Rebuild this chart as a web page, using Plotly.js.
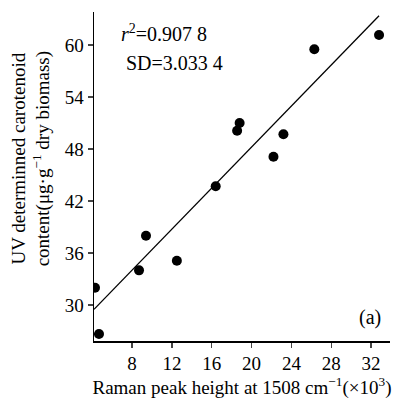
<!DOCTYPE html>
<html><head><meta charset="utf-8">
<script src="https://cdn.plot.ly/plotly-3.0.1.min.js"></script>
<style>html,body{margin:0;padding:0;background:#fff}#c{width:404px;height:403px}</style>
</head><body><div id="c"></div>
<script>
const ramanX = [4.28, 4.68, 8.7, 9.4, 12.5, 16.4, 18.55, 18.8, 22.2, 23.2, 26.3, 32.8];
const uvY = [32.0, 26.65, 34.0, 38.0, 35.1, 43.7, 50.1, 51.0, 47.1, 49.7, 59.5, 61.15];
const fitSlope = 1.183;
const fitIntercept = 24.56;
const fitXRange = [4.18, 32.8];
const xTicks = [8, 12, 16, 20, 24, 28, 32];
const yTicks = [30, 36, 42, 48, 54, 60];

const fitY = fitXRange.map(x => fitIntercept + fitSlope * x);
const font = {family: "Liberation Serif, Times New Roman, serif", color: "#000"};
const f = s => Object.assign({size: s}, font);

Plotly.newPlot("c", [
  {x: fitXRange, y: fitY, mode: "lines", line: {color: "#000", width: 1.3}, hoverinfo: "skip"},
  {x: ramanX, y: uvY, mode: "markers", marker: {color: "#000", size: 10, symbol: "circle"}}
], {
  width: 404, height: 403,
  margin: {l: 94, r: 14, t: 12, b: 62},
  showlegend: false,
  paper_bgcolor: "#fff", plot_bgcolor: "#fff",
  font: f(19),
  xaxis: {
    range: [4.18, 33.9], tickvals: xTicks, ticks: "outside", ticklen: 5, tickwidth: 1.3,
    showline: true, linecolor: "#000", linewidth: 1.5, showgrid: false, zeroline: false,
    tickfont: f(19),
    title: {text: "Raman peak height at 1508 cm<sup>−1</sup>(×10<sup>3</sup>)", font: f(19), standoff: 6}
  },
  yaxis: {
    range: [25.85, 63.8], tickvals: yTicks, ticks: "outside", ticklen: 5, tickwidth: 1.3,
    showline: true, linecolor: "#000", linewidth: 1.5, showgrid: false, zeroline: false,
    tickfont: f(19)
  },
  annotations: [
    {xref: "paper", yref: "paper", x: -0.213, y: 0.555, xanchor: "center", yanchor: "middle", showarrow: false,
     textangle: -90, align: "center",
     text: "UV determinned carotenoid<br>content(μg·g<sup>−1</sup> dry biomass)", font: f(19)},
    {xref: "paper", yref: "paper", x: 0.085, y: 0.935, xanchor: "left", yanchor: "middle", showarrow: false,
     text: "<i>r</i><sup>2</sup>=0.907 8", font: f(20)},
    {xref: "paper", yref: "paper", x: 0.1, y: 0.845, xanchor: "left", yanchor: "middle", showarrow: false,
     text: "SD=3.033 4", font: f(20)},
    {xref: "paper", yref: "paper", x: 0.975, y: 0.07, xanchor: "right", yanchor: "middle", showarrow: false,
     text: "(a)", font: f(20)}
  ]
}, {displayModeBar: false, staticPlot: true});
</script></body></html>
